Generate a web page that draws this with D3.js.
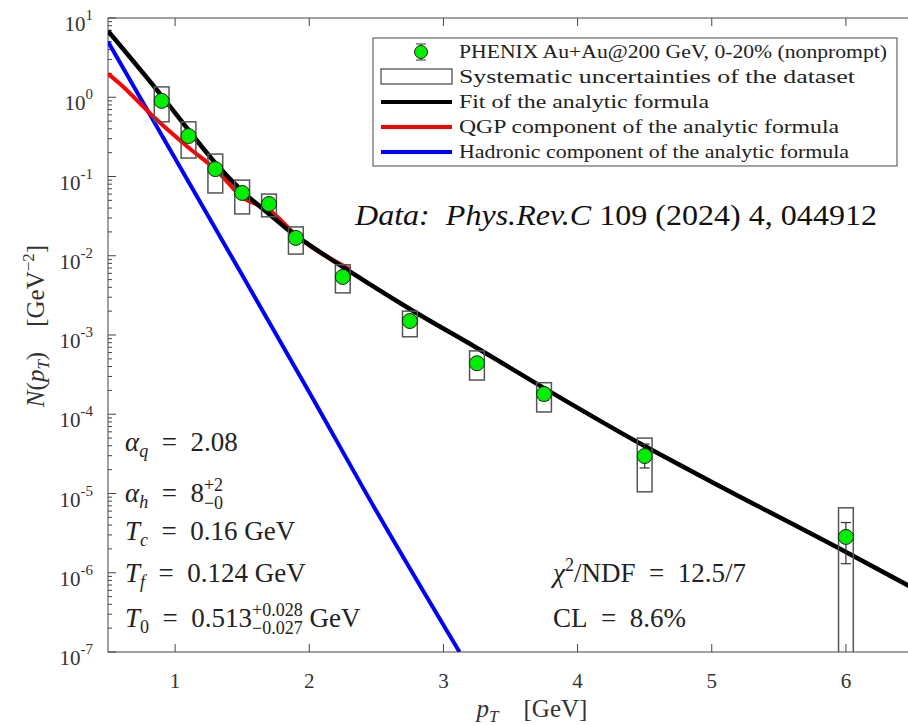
<!DOCTYPE html>
<html>
<head>
<meta charset="utf-8">
<script src="https://cdn.jsdelivr.net/npm/d3@7"></script>
<style>
  body { margin: 0; background: #fff; }
  svg { display: block; font-family: "Liberation Serif", "DejaVu Serif", serif; }
  text { white-space: pre; }
</style>
</head>
<body>
<svg width="908" height="725"></svg>
<script>
// data points (PHENIX nonprompt, 0-20%)
var pt      = [0.9, 1.1, 1.3, 1.5, 1.7, 1.9, 2.25, 2.75, 3.25, 3.75, 4.5, 6.0];
var yields  = [0.90, 0.324, 0.124, 0.062, 0.045, 0.0168, 0.0054, 0.0015, 4.4e-4, 1.8e-4, 2.97e-5, 2.83e-6];
var statLo  = [0.82, 0.295, 0.112, 0.056, 0.040, 0.0152, 0.0048, 0.00133, 3.8e-4, 1.5e-4, 2.1e-5, 1.3e-6];
var statHi  = [0.98, 0.355, 0.136, 0.068, 0.050, 0.0185, 0.0060, 0.00168, 5.0e-4, 2.1e-4, 4.2e-5, 4.3e-6];
var sysLo   = [0.49, 0.171, 0.062, 0.0337, 0.031, 0.0105, 0.0034, 0.00095, 2.7e-4, 1.07e-4, 1.05e-5, 1e-8];
var sysHi   = [1.35, 0.49, 0.192, 0.090, 0.060, 0.0231, 0.0077, 0.0020, 6.3e-4, 2.5e-4, 5.0e-5, 6.6e-6];

// curves
var fitX  = [0.5, 0.9, 1.1, 1.3, 1.5, 1.7, 1.9, 2.0, 2.75, 3.25, 3.75, 4.5, 5.0, 6.0, 6.5];
var fitY  = [6.85, 1.04, 0.386, 0.148, 0.0656, 0.0337, 0.0178, 0.0137, 0.00213, 6.86e-4, 2.14e-4, 3.97e-5, 1.40e-5, 1.83e-6, 6.4e-7];
var qgpX  = [0.5, 0.582, 0.843, 1.104, 1.306, 1.5, 1.7, 1.925, 2.3];
var qgpY  = [1.97, 1.51, 0.56, 0.229, 0.121, 0.055, 0.0378, 0.0168, 0.0068];
var hadX  = [0.5, 0.84, 1.5, 2.0, 2.5, 3.12];
var hadY  = [5.0, 0.5, 0.0057, 1.9e-4, 6.0e-6, 1.0e-7];

var yTicks = [1e1, 1e0, 1e-1, 1e-2, 1e-3, 1e-4, 1e-5, 1e-6, 1e-7];
var xTicks = [1, 2, 3, 4, 5, 6];

var legendLabels = ["PHENIX Au+Au@200 GeV, 0-20% (nonprompt)",
                    "Systematic uncertainties of the dataset",
                    "Fit of the analytic formula",
                    "QGP component of the analytic formula",
                    "Hadronic component of the analytic formula"];

var svg = d3.select("svg"),
    pl = 108, pr = 913, pt0 = 18, pb = 652;

var x = d3.scaleLinear().domain([0.5, 6.5]).range([pl, pr]),
    y = d3.scaleLog().domain([1e-7, 1e1]).range([pb, pt0]);

var axisColor = "#444";

svg.append("clipPath").attr("id", "clip")
  .append("rect").attr("x", pl).attr("y", pt0).attr("width", pr - pl).attr("height", pb - pt0);

// minor/major ticks
var minor = [];
for (var e = -7; e < 1; e++) for (var m = 2; m < 10; m++) minor.push(m * Math.pow(10, e));

var ax = svg.append("g").attr("stroke", axisColor).attr("stroke-width", 1);
ax.selectAll(".ymin").data(minor).enter().append("line")
  .attr("x1", pl).attr("x2", pl + 4).attr("y1", d => y(d)).attr("y2", d => y(d));
ax.selectAll(".ymaj").data(yTicks).enter().append("line")
  .attr("x1", pl).attr("x2", pl + 8).attr("y1", d => y(d)).attr("y2", d => y(d));
ax.selectAll(".xb").data(xTicks).enter().append("line")
  .attr("x1", d => x(d)).attr("x2", d => x(d)).attr("y1", pb).attr("y2", pb - 8);
ax.selectAll(".xt").data(xTicks).enter().append("line")
  .attr("x1", d => x(d)).attr("x2", d => x(d)).attr("y1", pt0).attr("y2", pt0 + 8);
ax.append("rect").attr("x", pl).attr("y", pt0).attr("width", pr - pl).attr("height", pb - pt0)
  .attr("fill", "none");

// tick labels
var yl = svg.append("g").attr("fill", "#333").attr("font-size", 21).attr("text-anchor", "end");
yTicks.forEach(function(d) {
  var t = yl.append("text").attr("x", 93).attr("y", y(d) + 13);
  t.append("tspan").text("10");
  t.append("tspan").attr("dy", -11).attr("font-size", 15).text(Math.round(Math.log10(d)));
});
svg.append("g").attr("fill", "#333").attr("font-size", 21).attr("text-anchor", "middle")
  .selectAll("text").data(xTicks).enter().append("text")
  .attr("x", d => x(d)).attr("y", 688).text(d => d);

// axis titles
var xt = svg.append("text").attr("x", 532).attr("y", 717).attr("text-anchor", "middle")
  .attr("font-size", 25).attr("fill", "#333");
xt.append("tspan").attr("font-style", "italic").text("p");
xt.append("tspan").attr("font-style", "italic").attr("font-size", 17).attr("dy", 5).text("T");
xt.append("tspan").attr("dy", -5).text("\u2003[GeV]");

var yt = svg.append("text").attr("transform", "translate(44,326) rotate(-90)").attr("text-anchor", "middle")
  .attr("font-size", 25).attr("fill", "#333");
yt.append("tspan").attr("font-style", "italic").text("N");
yt.append("tspan").text("(");
yt.append("tspan").attr("font-style", "italic").text("p");
yt.append("tspan").attr("font-style", "italic").attr("font-size", 17).attr("dy", 5).text("T");
yt.append("tspan").attr("dy", -5).text(")\u2003[GeV");
yt.append("tspan").attr("font-size", 17).attr("dy", -10).text("\u22122");
yt.append("tspan").attr("dy", 10).text("]");

// curves
var plot = svg.append("g").attr("clip-path", "url(#clip)");
var line = d3.line().curve(d3.curveMonotoneX).x(d => x(d[0])).y(d => y(d[1]));
plot.append("path").datum(d3.zip(hadX, hadY)).attr("d", line)
  .attr("fill", "none").attr("stroke", "#0000ff").attr("stroke-width", 4);
plot.append("path").datum(d3.zip(qgpX, qgpY)).attr("d", line)
  .attr("fill", "none").attr("stroke", "#ff0000").attr("stroke-width", 4);
plot.append("path").datum(d3.zip(fitX, fitY)).attr("d", line)
  .attr("fill", "none").attr("stroke", "#000").attr("stroke-width", 4.5);

// systematic boxes
var pts = pt.map((p, i) => ({p: p, v: yields[i], lo: statLo[i], hi: statHi[i], slo: sysLo[i], shi: sysHi[i]}));
plot.selectAll(".sys").data(pts).enter().append("rect")
  .attr("x", d => x(d.p - 0.055)).attr("width", d => x(d.p + 0.055) - x(d.p - 0.055))
  .attr("y", d => y(d.shi)).attr("height", d => y(d.slo) - y(d.shi))
  .attr("fill", "none").attr("stroke", "#555").attr("stroke-width", 1.5);

// stat error bars
var eb = plot.selectAll(".eb").data(pts).enter().append("g")
  .attr("stroke", "#333").attr("stroke-width", 1.2);
eb.append("line").attr("x1", d => x(d.p)).attr("x2", d => x(d.p)).attr("y1", d => y(d.lo)).attr("y2", d => y(d.hi));
eb.append("line").attr("x1", d => x(d.p) - 5).attr("x2", d => x(d.p) + 5).attr("y1", d => y(d.lo)).attr("y2", d => y(d.lo));
eb.append("line").attr("x1", d => x(d.p) - 5).attr("x2", d => x(d.p) + 5).attr("y1", d => y(d.hi)).attr("y2", d => y(d.hi));

plot.selectAll(".pt").data(pts).enter().append("circle")
  .attr("cx", d => x(d.p)).attr("cy", d => y(d.v)).attr("r", 7.5)
  .attr("fill", "#00ee00").attr("stroke", "#222").attr("stroke-width", 1);

// legend
var lg = svg.append("g");
lg.append("rect").attr("x", 373).attr("y", 38).attr("width", 524).attr("height", 128)
  .attr("fill", "#fff").attr("stroke", "#666").attr("stroke-width", 1.2);
var rowY = [52, 77, 102, 127, 152];
lg.selectAll("text").data(legendLabels).enter().append("text")
  .attr("x", 459).attr("y", (d, i) => rowY[i] + 6).attr("font-size", 18).attr("fill", "#222")
  .attr("textLength", (d, i) => [428, 396, 250, 380, 390][i]).attr("lengthAdjust", "spacingAndGlyphs")
  .text(d => d);
lg.append("line").attr("x1", 421).attr("x2", 421).attr("y1", 44).attr("y2", 60).attr("stroke", "#333");
lg.append("line").attr("x1", 416).attr("x2", 426).attr("y1", 44).attr("y2", 44).attr("stroke", "#333");
lg.append("line").attr("x1", 416).attr("x2", 426).attr("y1", 60).attr("y2", 60).attr("stroke", "#333");
lg.append("circle").attr("cx", 421).attr("cy", 52).attr("r", 6.5).attr("fill", "#00ee00").attr("stroke", "#222");
lg.append("rect").attr("x", 381).attr("y", 69).attr("width", 71).attr("height", 15)
  .attr("fill", "none").attr("stroke", "#444").attr("stroke-width", 1.2);
[["#000", 102], ["#ff0000", 127], ["#0000ff", 152]].forEach(function(s) {
  lg.append("line").attr("x1", 381).attr("x2", 452).attr("y1", s[1]).attr("y2", s[1])
    .attr("stroke", s[0]).attr("stroke-width", 4);
});

// reference
var ref = svg.append("text").attr("x", 355).attr("y", 225).attr("font-size", 30).attr("fill", "#111")
  .attr("textLength", 522).attr("lengthAdjust", "spacingAndGlyphs");
ref.append("tspan").attr("font-style", "italic").text("Data:  Phys.Rev.C");
ref.append("tspan").text(" 109 (2024) 4, 044912");

// fit parameters: each part {t: text, i: italic, s: small, dy, dx, under: place below previous}
var ann = svg.append("g").attr("font-size", 27).attr("fill", "#222");
function param(xp, yp, parts) {
  var t = ann.append("text").attr("x", xp).attr("y", yp), prev = null;
  parts.forEach(function(p) {
    var s = t.append("tspan").text(p.t);
    if (p.i) s.attr("font-style", "italic");
    if (p.s) s.attr("font-size", 18);
    if (p.dy) s.attr("dy", p.dy);
    if (p.under && prev) s.attr("dx", -prev.node().getComputedTextLength());
    prev = s;
  });
}
var eq = "\u2002=\u2002";
param(125, 451, [{t: "\u03b1", i: 1}, {t: "q", i: 1, s: 1, dy: 6}, {t: eq + "2.08", dy: -6}]);
param(125, 502, [{t: "\u03b1", i: 1}, {t: "h", i: 1, s: 1, dy: 6}, {t: eq + "8", dy: -6},
                 {t: "+2", s: 1, dy: -11}, {t: "\u22120", s: 1, dy: 18, under: 1}]);
param(125, 540, [{t: "T", i: 1}, {t: "c", i: 1, s: 1, dy: 6}, {t: eq + "0.16 GeV", dy: -6}]);
param(125, 582, [{t: "T", i: 1}, {t: "f", i: 1, s: 1, dy: 6}, {t: eq + "0.124 GeV", dy: -6}]);
param(125, 627, [{t: "T", i: 1}, {t: "0", s: 1, dy: 6}, {t: eq + "0.513", dy: -6},
                 {t: "+0.028", s: 1, dy: -11}, {t: "\u22120.027", s: 1, dy: 18, under: 1},
                 {t: " GeV", dy: -7}]);
param(553, 582, [{t: "\u03c7", i: 1}, {t: "2", s: 1, dy: -11}, {t: "/NDF" + eq + "12.5/7", dy: 11}]);
param(553, 627, [{t: "CL" + eq + "8.6%"}]);
</script>
</body>
</html>
